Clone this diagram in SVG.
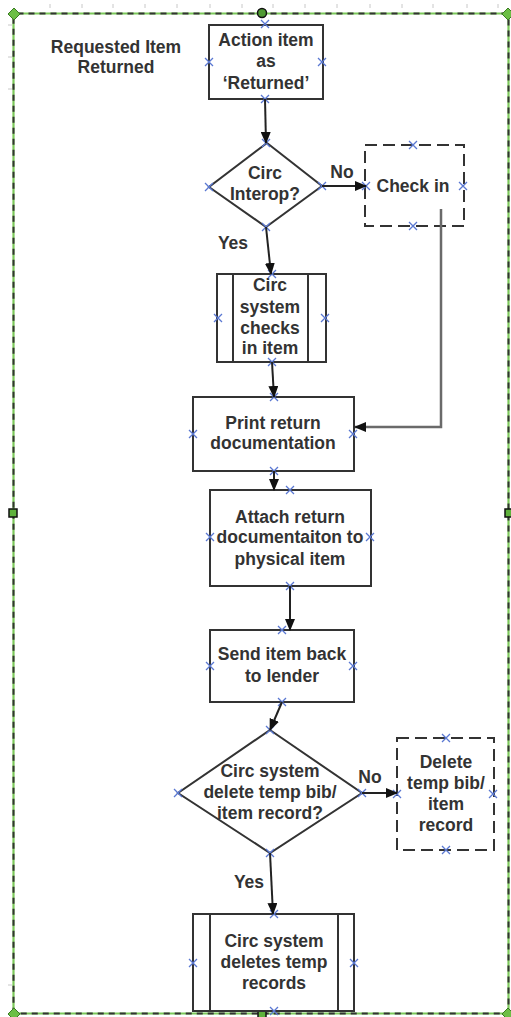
<svg xmlns="http://www.w3.org/2000/svg" width="511" height="1017" viewBox="0 0 511 1017">
<defs>
<style>
.t{font-family:"Liberation Sans",Arial,sans-serif;font-weight:bold;font-size:17.5px;fill:#333;text-anchor:middle}
.box{fill:#fff;stroke:#333;stroke-width:2}
.dash{fill:#fff;stroke:#333;stroke-width:2;stroke-dasharray:12,6}
.con{fill:none;stroke:#222;stroke-width:2;marker-end:url(#ah)}
.cp{stroke:#5a78d2;stroke-width:1.3;fill:none}
.tick{stroke:#c8c8c8;stroke-width:1}
</style>
<marker id="ah" markerUnits="userSpaceOnUse" markerWidth="12" markerHeight="10" viewBox="0 0 12 10" refX="11" refY="5" orient="auto">
<path d="M0,0 L12,5 L0,10 Z" fill="#111"/>
</marker>
<path id="x" d="M-4,-4 L4,4 M-4,4 L4,-4" class="cp"/>
</defs>
<rect width="511" height="1017" fill="#fff"/>
<g id="ruler">
<path class="tick" d="M50,4v4M82,4v4M113,4v4M145,4v4M177,4v4M210,4v4M242,4v4M273,4v4M305,4v4M337,4v4M370,4v4M402,4v4M433,4v4M467,4v4M498,4v4M8,25h4M8,57h4M8,89h4M8,985h4"/>
</g>
<g id="frame">
<rect x="13.5" y="13.5" width="495" height="1000" rx="4" fill="none" stroke="#7cc95a" stroke-width="2.2"/>
<rect x="13.5" y="13.5" width="495" height="1000" rx="4" fill="none" stroke="#333" stroke-width="2" stroke-dasharray="6,5"/>
<path d="M14,8 L20,14 L14,20 L8,14 Z" fill="#6cbf45" stroke="#3a7a22" stroke-width="1"/>
<path d="M508,8 L514,14 L508,20 L502,14 Z" fill="#6cbf45" stroke="#3a7a22" stroke-width="1"/>
<path d="M14,1008 L20,1014 L14,1020 L8,1014 Z" fill="#6cbf45" stroke="#3a7a22" stroke-width="1"/>
<path d="M508,1008 L514,1014 L508,1020 L502,1014 Z" fill="#6cbf45" stroke="#3a7a22" stroke-width="1"/>
<circle cx="262" cy="13" r="4.5" fill="#4f9a33" stroke="#111" stroke-width="1.5"/>
<rect x="9" y="509" width="8" height="8" fill="#5fb23c" stroke="#111" stroke-width="1.5"/>
<rect x="505" y="509" width="8" height="8" fill="#5fb23c" stroke="#111" stroke-width="1.5"/>
<rect x="258" y="1011" width="8" height="8" fill="#5fb23c" stroke="#111" stroke-width="1.5"/>
</g>
<g id="title">
<text class="t" x="116" y="53">Requested Item</text>
<text class="t" x="116" y="73">Returned</text>
</g>
<g id="n1">
<rect class="box" x="209" y="25" width="114" height="74"/>
<text class="t" x="266" y="46">Action item</text>
<text class="t" x="266" y="67">as</text>
<text class="t" x="266" y="89">‘Returned’</text>
<use href="#x" x="265" y="24"/><use href="#x" x="209" y="62"/><use href="#x" x="322" y="62"/><use href="#x" x="265" y="99"/>
</g>
<g id="d1">
<path class="box" d="M267,143 L322,186 L266,227 L209,187 Z" stroke="#444"/>
<text class="t" x="265" y="179">Circ</text>
<text class="t" x="265" y="200">Interop?</text>
<use href="#x" x="266" y="143"/><use href="#x" x="209" y="187"/><use href="#x" x="322" y="186"/><use href="#x" x="266" y="227"/>
</g>
<g id="n2">
<rect class="dash" x="365" y="145" width="99" height="81"/>
<text class="t" x="413" y="192">Check in</text>
<use href="#x" x="413" y="145"/><use href="#x" x="366" y="186"/><use href="#x" x="463" y="186"/><use href="#x" x="413" y="226"/>
</g>
<g id="n3">
<rect class="box" x="217" y="274" width="109" height="88"/>
<path d="M233,274 V362 M308,274 V362" stroke="#333" stroke-width="2"/>
<text class="t" x="270" y="291">Circ</text>
<text class="t" x="270" y="313">system</text>
<text class="t" x="270" y="334">checks</text>
<text class="t" x="270" y="354">in item</text>
<use href="#x" x="272" y="274"/><use href="#x" x="218" y="318"/><use href="#x" x="325" y="318"/><use href="#x" x="272" y="362"/>
</g>
<g id="n4">
<rect class="box" x="193" y="397" width="161" height="74"/>
<text class="t" x="273" y="429">Print return</text>
<text class="t" x="273" y="449">documentation</text>
<use href="#x" x="274" y="397"/><use href="#x" x="193" y="434"/><use href="#x" x="353" y="434"/><use href="#x" x="274" y="471"/>
</g>
<g id="n5">
<rect class="box" x="210" y="490" width="161" height="96"/>
<text class="t" x="290" y="523">Attach return</text>
<text class="t" x="290" y="543">documentaiton to</text>
<text class="t" x="290" y="565">physical item</text>
<use href="#x" x="290" y="490"/><use href="#x" x="210" y="537"/><use href="#x" x="370" y="537"/><use href="#x" x="290" y="586"/>
</g>
<g id="n6">
<rect class="box" x="210" y="630" width="144" height="72"/>
<text class="t" x="282" y="660">Send item back</text>
<text class="t" x="282" y="682">to lender</text>
<use href="#x" x="282" y="630"/><use href="#x" x="210" y="666"/><use href="#x" x="353" y="666"/><use href="#x" x="282" y="702"/>
</g>
<g id="d2">
<path class="box" d="M270,730 L362,793 L270,853 L178,793 Z" stroke="#444"/>
<text class="t" x="270" y="777">Circ system</text>
<text class="t" x="270" y="798">delete temp bib/</text>
<text class="t" x="270" y="819">item record?</text>
<use href="#x" x="270" y="730"/><use href="#x" x="178" y="793"/><use href="#x" x="362" y="793"/><use href="#x" x="270" y="853"/>
</g>
<g id="n7">
<rect class="dash" x="397" y="738" width="97" height="112"/>
<text class="t" x="446" y="768">Delete</text>
<text class="t" x="446" y="789">temp bib/</text>
<text class="t" x="446" y="810">item</text>
<text class="t" x="446" y="831">record</text>
<use href="#x" x="446" y="738"/><use href="#x" x="397" y="794"/><use href="#x" x="493" y="794"/><use href="#x" x="446" y="850"/>
</g>
<g id="n8">
<rect class="box" x="193" y="914" width="161" height="97"/>
<path d="M210,914 V1011 M338,914 V1011" stroke="#333" stroke-width="2"/>
<text class="t" x="274" y="947">Circ system</text>
<text class="t" x="274" y="968">deletes temp</text>
<text class="t" x="274" y="989">records</text>
<use href="#x" x="274" y="914"/><use href="#x" x="193" y="963"/><use href="#x" x="354" y="963"/><use href="#x" x="274" y="1011"/>
</g>
<g id="connectors">
<path class="con" d="M265,99 L266,143"/>
<path class="con" d="M322,186 L366,186"/>
<path class="con" d="M266,227 L271,274"/>
<path class="con" d="M272,362 L274,397"/>
<path d="M441,209 L441,427 L355,427" fill="none" stroke="#6a6a6a" stroke-width="2.5" marker-end="url(#ah)"/>
<path class="con" d="M274,471 L274,490"/>
<path class="con" d="M290,586 L290,630"/>
<path class="con" d="M282,702 L270,730"/>
<path class="con" d="M362,793 L397,793"/>
<path class="con" d="M270,853 L273,914"/>
<text class="t" x="342" y="178">No</text>
<text class="t" x="233" y="249">Yes</text>
<text class="t" x="370" y="783">No</text>
<text class="t" x="249" y="888">Yes</text>
</g>
</svg>
